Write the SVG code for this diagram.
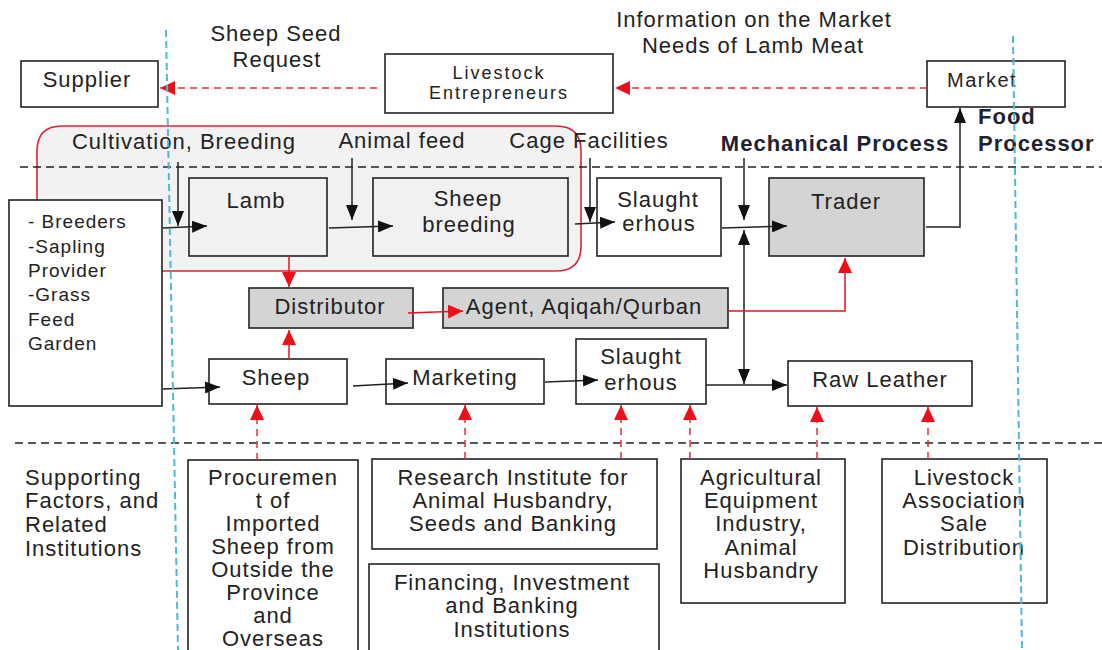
<svg xmlns="http://www.w3.org/2000/svg" width="1102" height="650" viewBox="0 0 1102 650">
<style>
.t{font-family:"Liberation Sans",Arial,sans-serif;font-size:22px;letter-spacing:1px;fill:#222}
.m{text-anchor:middle}
.b{font-weight:bold;fill:#1e2233}
.s{font-size:19px}
.box{fill:#fff;stroke:#222;stroke-width:1.6}
.gl{fill:#f1f1f1;stroke:#222;stroke-width:1.6}
.gd{fill:#d4d4d4;stroke:#222;stroke-width:1.6}
.k{fill:none;stroke:#222;stroke-width:1.5}
.r{fill:none;stroke:#e8141c;stroke-width:1.5}
.rd{fill:none;stroke:#e0303c;stroke-width:1.5;stroke-dasharray:7 5}
.dash{fill:none;stroke:#222;stroke-width:1.5;stroke-dasharray:8 5}
.cy{fill:none;stroke:#4db8d8;stroke-width:2;stroke-dasharray:7 4}
</style>
<defs>
<marker id="ak" markerUnits="userSpaceOnUse" markerWidth="15" markerHeight="12" viewBox="0 0 15 12" refX="15" refY="6" orient="auto"><path d="M0,0 L15,6 L0,12 z" fill="#111"/></marker>
<marker id="ar" markerUnits="userSpaceOnUse" markerWidth="15" markerHeight="14" viewBox="0 0 15 14" refX="15" refY="7" orient="auto"><path d="M0,0 L15,7 L0,14 z" fill="#ee0f1a"/></marker>
</defs>
<rect width="1102" height="650" fill="#fff"/>

<g id="cluster">
<path d="M37,271 L37,151 Q37,126 62,126 L556,126 Q581,126 581,151 L581,246 Q581,271 556,271 Z" fill="#f2f2f2" stroke="#d9263a" stroke-width="1.6"/>
</g>

<g id="labels">
<text class="t m" x="276" y="41">Sheep Seed</text>
<text class="t m" x="277" y="67">Request</text>
<text class="t m" x="754" y="27">Information on the Market</text>
<text class="t m" x="753" y="53">Needs of Lamb Meat</text>
<text class="t m" x="184" y="149">Cultivation, Breeding</text>
<text class="t m" x="402" y="148">Animal feed</text>
<text class="t m" x="589" y="148">Cage Facilities</text>
<text class="t m b" x="835" y="151">Mechanical Process</text>
<text class="t b" x="978" y="124">Food</text>
<text class="t b" x="978" y="151">Processor</text>
<text class="t" x="25" y="485">Supporting</text>
<text class="t" x="25" y="508">Factors, and</text>
<text class="t" x="25" y="532">Related</text>
<text class="t" x="25" y="556">Institutions</text>
</g>

<g id="dividers">
<line class="dash" x1="20" y1="167" x2="1102" y2="167"/>
<line class="dash" x1="15" y1="443" x2="1102" y2="443"/>
</g>

<g id="supplier"><rect class="box" x="21" y="61" width="137" height="46"/><text class="t m" x="87" y="87">Supplier</text></g>
<g id="entrepreneurs"><rect class="box" x="385" y="54" width="228" height="59"/>
<text class="t m" x="499" y="79" style="font-size:18px;letter-spacing:2px">Livestock</text>
<text class="t m" x="499" y="99" style="font-size:18px;letter-spacing:2px">Entrepreneurs</text></g>
<g id="market"><rect class="box" x="927" y="61" width="138" height="46"/><text class="t" x="947" y="87" style="font-size:20px;letter-spacing:1.5px">Market</text></g>

<g id="lamb"><rect class="gl" x="189" y="178" width="138" height="78"/><text class="t m" x="256" y="208">Lamb</text></g>
<g id="sheep-breeding"><rect class="gl" x="373" y="178" width="195" height="78"/><text class="t m" x="468" y="206">Sheep</text><text class="t m" x="469" y="232">breeding</text></g>
<g id="slaughterhouse1"><rect class="box" x="597" y="178" width="124" height="78"/><text class="t m" x="658" y="207">Slaught</text><text class="t m" x="659" y="231">erhous</text></g>
<g id="trader"><rect class="gd" x="769" y="178" width="155" height="78"/><text class="t m" x="846" y="209">Trader</text></g>

<g id="breeders"><rect class="box" x="9" y="200" width="153" height="206"/>
<text class="t s" x="28" y="228">- Breeders</text>
<text class="t s" x="28" y="253">-Sapling</text>
<text class="t s" x="28" y="277">Provider</text>
<text class="t s" x="28" y="301">-Grass</text>
<text class="t s" x="28" y="326">Feed</text>
<text class="t s" x="28" y="350">Garden</text></g>

<g id="distributor"><rect class="gd" x="249" y="288" width="164" height="40"/><text class="t m" x="330" y="314">Distributor</text></g>
<g id="agent"><rect class="gd" x="443" y="288" width="285" height="40"/><text class="t m" x="584" y="314">Agent, Aqiqah/Qurban</text></g>

<g id="sheep"><rect class="box" x="209" y="359" width="138" height="45"/><text class="t m" x="276" y="385">Sheep</text></g>
<g id="marketing"><rect class="box" x="386" y="359" width="158" height="45"/><text class="t m" x="465" y="385">Marketing</text></g>
<g id="slaughterhouse2"><rect class="box" x="576" y="339" width="130" height="65"/><text class="t m" x="641" y="364">Slaught</text><text class="t m" x="641" y="390">erhous</text></g>
<g id="raw-leather"><rect class="box" x="788" y="361" width="184" height="45"/><text class="t m" x="880" y="387">Raw Leather</text></g>

<g id="procurement"><rect class="box" x="188" y="460" width="170" height="200"/>
<text class="t m" x="273" y="485">Procuremen</text>
<text class="t m" x="273" y="508">t of</text>
<text class="t m" x="273" y="531">Imported</text>
<text class="t m" x="273" y="554">Sheep from</text>
<text class="t m" x="273" y="577">Outside the</text>
<text class="t m" x="273" y="600">Province</text>
<text class="t m" x="273" y="623">and</text>
<text class="t m" x="273" y="646">Overseas</text></g>
<g id="research"><rect class="box" x="372" y="459" width="285" height="90"/>
<text class="t m" x="513" y="485">Research Institute for</text>
<text class="t m" x="513" y="508">Animal Husbandry,</text>
<text class="t m" x="513" y="531">Seeds and Banking</text></g>
<g id="financing"><rect class="box" x="369" y="564" width="290" height="100"/>
<text class="t m" x="512" y="590">Financing, Investment</text>
<text class="t m" x="512" y="613">and Banking</text>
<text class="t m" x="512" y="637">Institutions</text></g>
<g id="agricultural"><rect class="box" x="681" y="459" width="164" height="144"/>
<text class="t m" x="761" y="485">Agricultural</text>
<text class="t m" x="761" y="508">Equipment</text>
<text class="t m" x="761" y="531">Industry,</text>
<text class="t m" x="761" y="555">Animal</text>
<text class="t m" x="761" y="578">Husbandry</text></g>
<g id="association"><rect class="box" x="882" y="459" width="165" height="144"/>
<text class="t m" x="964" y="485">Livestock</text>
<text class="t m" x="964" y="508">Association</text>
<text class="t m" x="964" y="531">Sale</text>
<text class="t m" x="964" y="555">Distribution</text></g>

<g id="connectors">
<line class="rd" x1="377" y1="88" x2="160" y2="88" marker-end="url(#ar)"/>
<line class="rd" x1="927" y1="88" x2="615" y2="88" marker-end="url(#ar)"/>
<line class="k" x1="178" y1="162" x2="178" y2="226" marker-end="url(#ak)"/>
<line class="k" x1="163" y1="228" x2="207" y2="226" marker-end="url(#ak)"/>
<line class="k" x1="352" y1="158" x2="352" y2="220" marker-end="url(#ak)"/>
<line class="k" x1="329" y1="228" x2="393" y2="226" marker-end="url(#ak)"/>
<line class="k" x1="590" y1="158" x2="590" y2="222" marker-end="url(#ak)"/>
<line class="k" x1="575" y1="224" x2="615" y2="222" marker-end="url(#ak)"/>
<line class="k" x1="744" y1="158" x2="744" y2="220" marker-end="url(#ak)"/>
<line class="k" x1="722" y1="228" x2="787" y2="226" marker-end="url(#ak)"/>
<line class="k" x1="744" y1="300" x2="744" y2="230" marker-end="url(#ak)"/>
<line class="k" x1="744" y1="300" x2="744" y2="384" marker-end="url(#ak)"/>
<polyline class="k" points="926,227 960,227 960,108" marker-end="url(#ak)"/>
<line class="r" x1="289" y1="256" x2="289" y2="287" marker-end="url(#ar)"/>
<line class="r" x1="289" y1="359" x2="289" y2="330" marker-end="url(#ar)"/>
<line class="r" x1="408" y1="313" x2="463" y2="311" marker-end="url(#ar)"/>
<polyline class="r" points="728,311 845,311 845,258" marker-end="url(#ar)"/>
<line class="k" x1="163" y1="389" x2="220" y2="387" marker-end="url(#ak)"/>
<line class="k" x1="353" y1="386" x2="408" y2="383" marker-end="url(#ak)"/>
<line class="k" x1="545" y1="382" x2="598" y2="380" marker-end="url(#ak)"/>
<line class="k" x1="706" y1="385" x2="787" y2="385" marker-end="url(#ak)"/>
<line class="rd" x1="257" y1="460" x2="257" y2="405" marker-end="url(#ar)"/>
<line class="rd" x1="465" y1="459" x2="465" y2="405" marker-end="url(#ar)"/>
<line class="rd" x1="621" y1="459" x2="621" y2="405" marker-end="url(#ar)"/>
<line class="rd" x1="690" y1="459" x2="690" y2="405" marker-end="url(#ar)"/>
<line class="rd" x1="817" y1="459" x2="817" y2="407" marker-end="url(#ar)"/>
<line class="rd" x1="928" y1="459" x2="928" y2="407" marker-end="url(#ar)"/>
</g>

<g id="boundaries">
<line class="cy" x1="166" y1="30" x2="178" y2="650"/>
<line class="cy" x1="1013" y1="36" x2="1022" y2="650"/>
</g>
</svg>
